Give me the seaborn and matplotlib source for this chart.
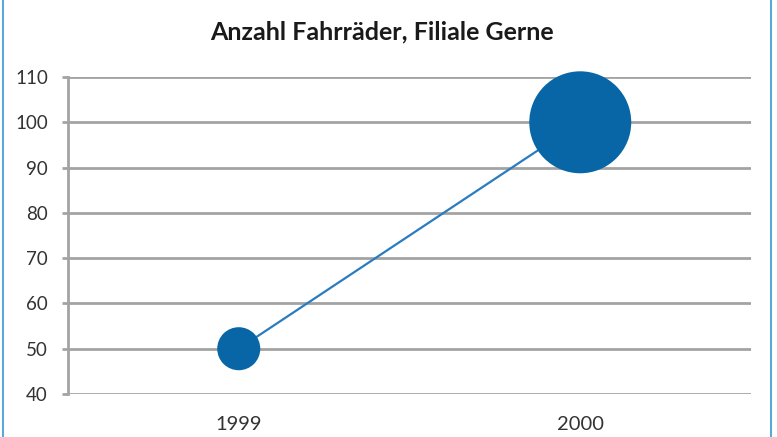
import matplotlib
matplotlib.use("Agg")
import matplotlib.pyplot as plt
import seaborn as sns
import pandas as pd
from matplotlib.lines import Line2D

years = ["1999", "2000"]
bikes = [50, 100]
bubble_value = [50, 100]
yticks = [40, 50, 60, 70, 80, 90, 100, 110]
title = "Anzahl Fahrräder, Filiale Gerne"

df = pd.DataFrame({"Jahr": years, "Anzahl": bikes, "Groesse": bubble_value})

sns.set_theme(style="white")
plt.rcParams["font.family"] = ["Lato", "DejaVu Sans"]

fig = plt.figure(figsize=(7.77, 4.37), dpi=100)
ax = fig.add_axes([68 / 777, 1 - 394 / 437, (751 - 68) / 777, (394 - 77) / 437])

sns.lineplot(data=df, x="Jahr", y="Anzahl", ax=ax, color="#2a7cc0", linewidth=1.6, zorder=3, sort=False)
sns.scatterplot(data=df, x="Jahr", y="Anzahl", size="Groesse", sizes=(960, 5390), ax=ax,
                color="#0866a6", edgecolor="none", legend=False, zorder=4, clip_on=False)

ax.set_xlim(-0.5, 1.5)
ax.set_ylim(40, 110)
ax.set_yticks(yticks)
ax.set_yticklabels([str(v) for v in yticks])
ax.set_xlabel("")
ax.set_ylabel("")

grid_c = "#a3a3a3"
for v in yticks:
    ax.axhline(v, color=grid_c, linewidth=2.0, zorder=1)
for s in ["top", "right", "bottom"]:
    ax.spines[s].set_visible(False)
ax.spines["left"].set_color(grid_c)
ax.spines["left"].set_linewidth(2.0)
ax.tick_params(axis="y", which="both", left=True, length=4, width=2.0, color=grid_c,
               pad=10.5, labelsize=13.5, labelcolor="#333333")
ax.tick_params(axis="x", bottom=False, pad=10, labelsize=14.5, labelcolor="#333333")

fig.text(382 / 777, 1 - 32 / 437, title, ha="center", va="center", fontsize=18,
         fontweight="bold", color="#1a1a1a")

border_c = "#5aaad8"
fig.add_artist(Line2D([2.5 / 777, 2.5 / 777], [0, 1], color=border_c, linewidth=1.5, transform=fig.transFigure))
fig.add_artist(Line2D([771 / 777, 771 / 777], [0, 1], color=border_c, linewidth=1.5, transform=fig.transFigure))

fig.savefig("out.png", dpi=100, facecolor="white")
